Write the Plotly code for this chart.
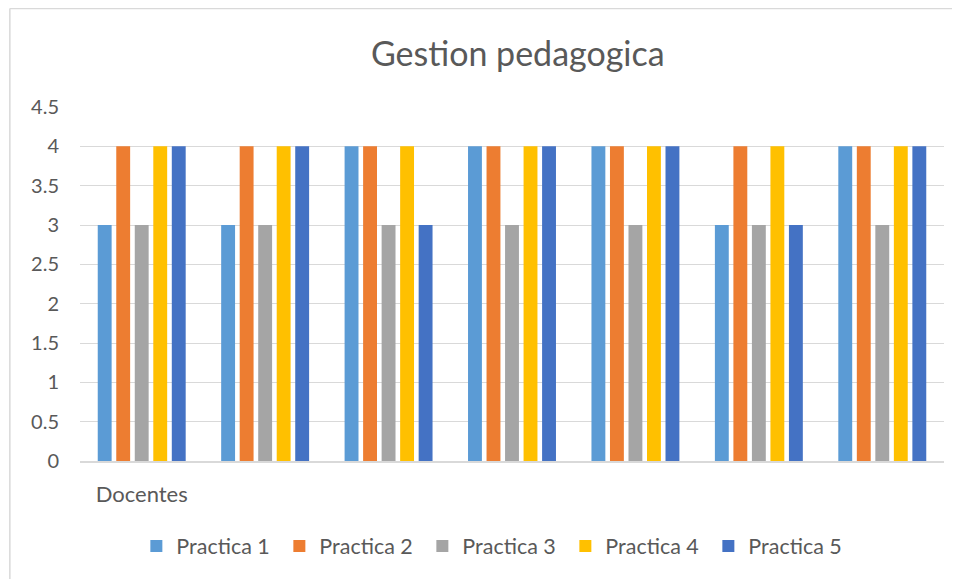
import plotly.graph_objects as go

# datos del grafico
grupos = [0, 1, 2, 3, 4, 5, 6]
etiquetas = ["Docentes", "", "", "", "", "", ""]
practica_1 = [3, 3, 4, 4, 4, 3, 4]
practica_2 = [4, 4, 4, 4, 4, 4, 4]
practica_3 = [3, 3, 3, 3, 3, 3, 3]
practica_4 = [4, 4, 4, 4, 4, 4, 4]
practica_5 = [4, 4, 3, 4, 4, 3, 4]
y_ticks = [0, 0.5, 1, 1.5, 2, 2.5, 3, 3.5, 4, 4.5]

series = [
    ("Practica 1", practica_1, "#5B9BD5"),
    ("Practica 2", practica_2, "#ED7D31"),
    ("Practica 3", practica_3, "#A5A5A5"),
    ("Practica 4", practica_4, "#FFC000"),
    ("Practica 5", practica_5, "#4472C4"),
]

fig = go.Figure()
for nombre, valores, color in series:
    fig.add_trace(go.Bar(name=nombre, x=grupos, y=valores, marker_color=color,
                         marker_line_width=0))

texto = "#595959"
borde = "#D9D9D9"
fig.update_layout(
    width=960, height=579,
    paper_bgcolor="white", plot_bgcolor="white",
    font=dict(family="Lato, Open Sans, sans-serif", color=texto, size=20),
    title=dict(text="Gestion pedagogica", x=0.531, xanchor="center",
               y=0.921, yanchor="middle", font=dict(size=34, color=texto)),
    margin=dict(l=72, r=24, t=99, b=126),
    barmode="group", bargap=0.25, bargroupgap=0.25,
    xaxis=dict(tickmode="array", tickvals=grupos, ticktext=etiquetas,
               range=[-0.5, 6.5], showgrid=False, showline=True,
               linecolor=borde, linewidth=1.5, ticks="",
               ticklabelstandoff=13, tickfont=dict(size=22)),
    yaxis=dict(range=[0, 4.5], tickmode="array", tickvals=y_ticks,
               showgrid=True, gridcolor=borde, gridwidth=1.3,
               zeroline=False, ticks="", ticklabelstandoff=20,
               tickfont=dict(size=20)),
    legend=dict(orientation="h", x=0.479, xanchor="center", y=-0.24,
                yanchor="middle", font=dict(size=21.5), itemwidth=30,
                entrywidth=98, traceorder="normal"),
    shapes=[
        dict(type="line", xref="paper", yref="paper",
             x0=-0.0812, y0=-0.5, x1=-0.0812, y1=1.278,
             line=dict(color=borde, width=1.5)),
        dict(type="line", xref="paper", yref="paper",
             x0=-0.0812, y0=1.278, x1=1.1, y1=1.278,
             line=dict(color=borde, width=1.5)),
    ],
)

fig.write_html("out.html")
